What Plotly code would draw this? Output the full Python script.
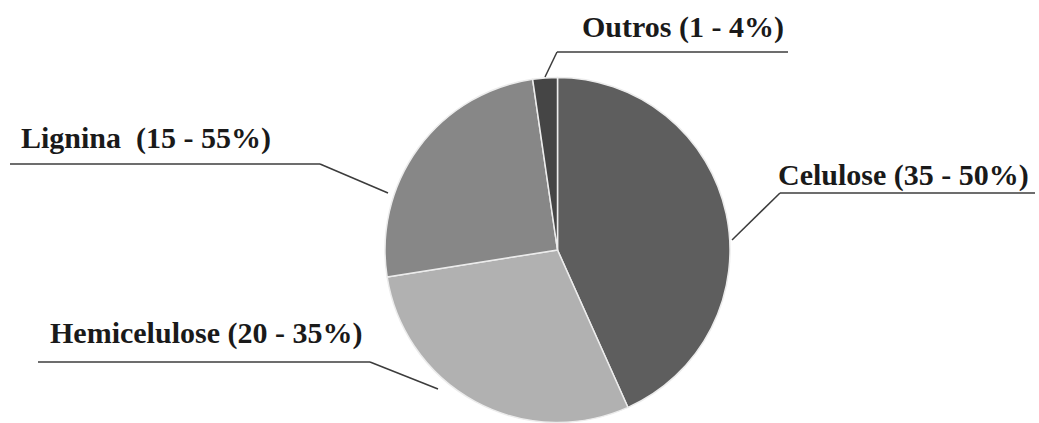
import plotly.graph_objects as go

# Composição da biomassa lignocelulósica
componentes = ["Celulose", "Hemicelulose", "Lignina", "Outros"]
faixas = ["(35 - 50%)", "(20 - 35%)", "(15 - 55%)", "(1 - 4%)"]
fracoes = [43.3, 29.2, 25.2, 2.3]
cores = ["#5e5e5e", "#b1b1b1", "#878787", "#454545"]

W, H = 1039, 423


def px(x, y):
    """Pixel position (from top-left) to paper coordinates."""
    return x / W, 1 - y / H


# Pie placement
cx, cy, r = 557.5, 250.0, 172.5
x0, y0 = px(cx - r, cy + r)
x1, y1 = px(cx + r, cy - r)

fig = go.Figure(
    go.Pie(
        labels=componentes,
        values=fracoes,
        sort=False,
        direction="clockwise",
        rotation=0,
        textinfo="none",
        hoverinfo="label+percent",
        marker=dict(colors=cores, line=dict(color="#ececec", width=1.5)),
        domain=dict(x=[x0, x1], y=[y0, y1]),
        showlegend=False,
    )
)

# Label placement: (text left, text middle), underline span, leader end on the pie
rotulos = {
    "Celulose": dict(text=(776, 175), under=(780, 1035, 193), end=(732, 240)),
    "Hemicelulose": dict(text=(48, 333), under=(38, 370, 362), end=(438, 389)),
    "Lignina": dict(text=(19, 138), under=(10, 320, 164), end=(388, 193)),
    "Outros": dict(text=(580, 27), under=(557, 788, 52), end=(545, 77)),
}

annotations = []
shapes = []
line_style = dict(color="#3c3c3c", width=1.5)
for nome, faixa in zip(componentes, faixas):
    p = rotulos[nome]
    tx, ty = px(*p["text"])
    sep = "&nbsp; " if nome == "Lignina" else " "
    annotations.append(
        dict(
            x=tx, y=ty, xref="paper", yref="paper",
            xanchor="left", yanchor="middle",
            text=f"<b>{nome}{sep}{faixa}</b>",
            showarrow=False,
            font=dict(family="Liberation Serif", size=30, color="#1a1a1a"),
        )
    )
    ux0, ux1, uy = p["under"]
    ex, ey = p["end"]
    # horizontal underline, then a diagonal leader toward the slice
    knee = ux1 if ux1 < cx else ux0
    a, b = px(ux0, uy)
    c, d = px(ux1, uy)
    shapes.append(dict(type="line", xref="paper", yref="paper",
                       x0=a, y0=b, x1=c, y1=d, line=line_style))
    k1, k2 = px(knee, uy)
    e1, e2 = px(ex, ey)
    shapes.append(dict(type="line", xref="paper", yref="paper",
                       x0=k1, y0=k2, x1=e1, y1=e2, line=line_style))

fig.update_layout(
    width=W,
    height=H,
    margin=dict(l=0, r=0, t=0, b=0),
    paper_bgcolor="white",
    plot_bgcolor="white",
    annotations=annotations,
    shapes=shapes,
)

fig.write_html("out.html")
